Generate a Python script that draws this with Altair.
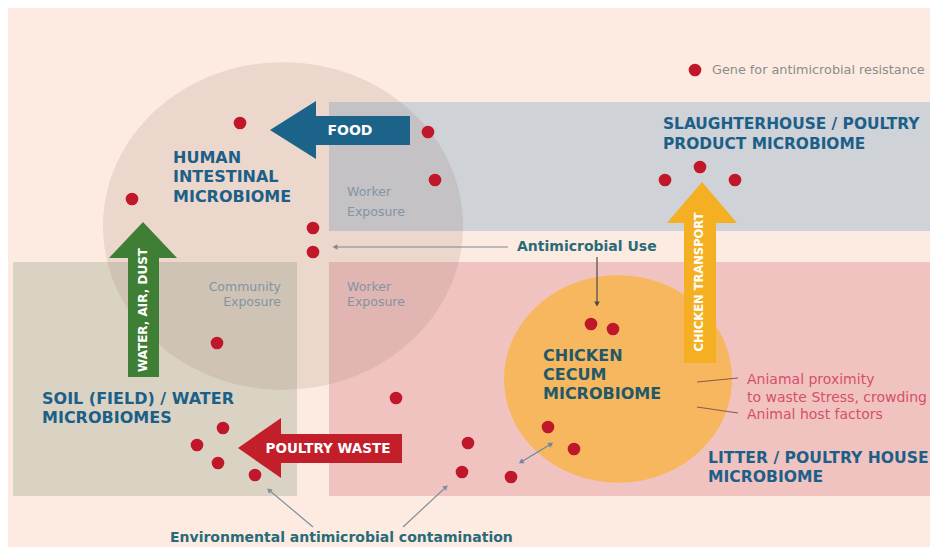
import math
import altair as alt
import pandas as pd

BG = "#fdebe1"
X0, X1, Y0, Y1 = 8, 930, 8, 547

# ---- regions (rectangles) ----
region_name = ["slaughterhouse", "litter", "soil"]
region_x = [329, 329, 13]
region_x2 = [938, 938, 297]
region_y = [102, 262, 262]
region_y2 = [231, 496, 496]
region_color = ["#cfd2d7", "#f1c3c0", "#dad3c4"]

# ---- microbiome ellipses ----
blob_name = ["human", "cecum"]
blob_x = [283, 618]
blob_y = [226, 379]
blob_rx = [180, 114]
blob_color = ["#8c6e66", "#f6b75e"]
blob_opacity = [0.16, 1.0]
ELLIPSE = "M-1,0A1,0.91 0 1,1 1,0A1,0.91 0 1,1 -1,0Z"

# ---- thick arrows: body + head ----
arrow_name = ["FOOD", "WATER, AIR, DUST", "CHICKEN TRANSPORT", "POULTRY WASTE"]
arrow_color = ["#1b6388", "#3f7f35", "#f4b022", "#c21f2b"]
body_x = [312, 128, 684, 278]
body_x2 = [410, 159, 716, 402]
body_y = [116, 255, 220, 434]
body_y2 = [145, 377, 363, 463]
head_x = [293, 143, 702, 259.5]
head_y = [130, 240, 202.5, 448]
head_span = [58, 68, 70, 60]
head_path = [
    "M-0.793,0L0.793,-1L0.793,1Z",
    "M0,-0.53L1,0.53L-1,0.53Z",
    "M0,-0.586L1,0.586L-1,0.586Z",
    "M-0.717,0L0.717,-1L0.717,1Z",
]
arrow_label_x = [350, 143, 700, 328]
arrow_label_y = [131, 310, 282, 449]
arrow_label_size = [14, 12, 11.5, 13.5]
arrow_label_angle = [0, 270, 270, 0]

# ---- thin connector lines ----
seg_x1 = [508, 597, 313, 403, 521, 697, 697]
seg_y1 = [247, 257, 527, 527, 462, 382, 407]
seg_x2 = [335, 597, 269, 446, 551, 738, 738]
seg_y2 = [247, 304, 490, 487, 444, 378, 413]
seg_color = ["#7b8a92", "#4a4a4a", "#7f8f9c", "#7f8f9c", "#6e87a3", "#8a5a52", "#8a5a52"]
seg_heads = ["end", "end", "end", "end", "both", "none", "none"]

# ---- genes for antimicrobial resistance ----
gene_x = [240, 428, 435, 132, 313, 313, 700, 665, 735, 217, 396, 223, 197, 218,
          255, 468, 462, 591, 613, 548, 574, 511, 695]
gene_y = [123, 132, 180, 199, 228, 252, 167, 180, 180, 343, 398, 428, 445, 463,
          475, 443, 472, 324, 329, 427, 449, 477, 70]

# ---- texts ----
label_text = ["HUMAN", "INTESTINAL", "MICROBIOME",
              "SLAUGHTERHOUSE / POULTRY", "PRODUCT MICROBIOME",
              "LITTER / POULTRY HOUSE", "MICROBIOME",
              "SOIL (FIELD) / WATER", "MICROBIOMES",
              "CHICKEN", "CECUM", "MICROBIOME",
              "Antimicrobial Use", "Environmental antimicrobial contamination"]
label_x = [173, 173, 173, 663, 663, 708, 708, 42, 42, 543, 543, 543, 517, 170]
label_y = [158, 177, 197, 124, 144, 458, 477, 399, 418, 356, 375, 394, 247, 538]
label_size = [16, 16, 16, 15.4, 15.4, 15.6, 15.6, 16, 16, 16, 16, 16, 14, 14]
label_color = ["#1c5f88"] * 9 + ["#22596a"] * 3 + ["#286b78", "#286b78"]

note_text = ["Worker", "Exposure", "Worker", "Exposure",
             "Aniamal proximity", "to waste Stress, crowding", "Animal host factors",
             "Gene for antimicrobial resistance"]
note_x = [347, 347, 347, 347, 747, 747, 747, 712]
note_y = [192, 212, 287, 302, 380, 398, 415, 70]
note_size = [12.5, 12.5, 12.5, 12.5, 14, 14, 14, 12.8]
note_color = ["#8394a4"] * 4 + ["#d4506a"] * 3 + ["#8c8c8c"]

right_text = ["Community", "Exposure"]
right_x = [281, 281]
right_y = [287, 302]

# ---------------------------------------------------------------
xs = alt.Scale(domain=[X0, X1], nice=False, zero=False)
ys = alt.Scale(domain=[Y0, Y1], nice=False, zero=False, reverse=True)
X = lambda f: alt.X(f, type="quantitative", scale=xs, axis=None)
Y = lambda f: alt.Y(f, type="quantitative", scale=ys, axis=None)

regions = pd.DataFrame(dict(name=region_name, x=region_x, x2=region_x2,
                            y=region_y, y2=region_y2, color=region_color))
rects = alt.Chart(regions).mark_rect().encode(
    x=X("x"), x2="x2", y=Y("y"), y2="y2",
    color=alt.Color("color:N", scale=None))

blobs = pd.DataFrame(dict(name=blob_name, x=blob_x, y=blob_y,
                          size=[(2 * r) ** 2 for r in blob_rx],
                          color=blob_color, op=blob_opacity))
blob_layer = alt.Chart(blobs).mark_point(filled=True, shape=ELLIPSE, strokeWidth=0).encode(
    x=X("x"), y=Y("y"),
    size=alt.Size("size:Q", scale=None),
    color=alt.Color("color:N", scale=None),
    opacity=alt.Opacity("op:Q", scale=None))

segs = pd.DataFrame(dict(x=seg_x1, y=seg_y1, x2=seg_x2, y2=seg_y2, color=seg_color))
seg_layer = alt.Chart(segs).mark_rule(strokeWidth=1.2).encode(
    x=X("x"), y=Y("y"), x2="x2", y2="y2",
    color=alt.Color("color:N", scale=None))

hx, hy, ha, hc = [], [], [], []
for a, b, c, d, col, h in zip(seg_x1, seg_y1, seg_x2, seg_y2, seg_color, seg_heads):
    if h in ("end", "both"):
        hx.append(c); hy.append(d); hc.append(col)
        ha.append(math.degrees(math.atan2(c - a, -(d - b))) % 360)
    if h == "both":
        hx.append(a); hy.append(b); hc.append(col)
        ha.append(math.degrees(math.atan2(a - c, -(b - d))) % 360)
heads = pd.DataFrame(dict(x=hx, y=hy, angle=ha, color=hc))
head_layer = alt.Chart(heads).mark_point(filled=True, shape="triangle-up", size=32, opacity=1).encode(
    x=X("x"), y=Y("y"),
    angle=alt.Angle("angle:Q", scale=None),
    color=alt.Color("color:N", scale=None))

bodies = pd.DataFrame(dict(name=arrow_name, x=body_x, x2=body_x2, y=body_y, y2=body_y2,
                           color=arrow_color))
body_layer = alt.Chart(bodies).mark_rect().encode(
    x=X("x"), x2="x2", y=Y("y"), y2="y2",
    color=alt.Color("color:N", scale=None))

aheads = pd.DataFrame(dict(name=arrow_name, x=head_x, y=head_y,
                           size=[s ** 2 for s in head_span], shape=head_path,
                           color=arrow_color))
ahead_layer = alt.Chart(aheads).mark_point(filled=True, opacity=1, strokeWidth=0).encode(
    x=X("x"), y=Y("y"),
    size=alt.Size("size:Q", scale=None),
    shape=alt.Shape("shape:N", scale=None),
    color=alt.Color("color:N", scale=None))

alabels = pd.DataFrame(dict(text=arrow_name, x=arrow_label_x, y=arrow_label_y,
                            size=arrow_label_size, angle=arrow_label_angle))
alabel_layer = alt.Chart(alabels).mark_text(
    font="DejaVu Sans", fontWeight="bold", color="white", align="center", baseline="middle"
).encode(x=X("x"), y=Y("y"), text="text:N",
         size=alt.Size("size:Q", scale=None),
         angle=alt.Angle("angle:Q", scale=None))

genes = pd.DataFrame(dict(x=gene_x, y=gene_y))
gene_layer = alt.Chart(genes).mark_point(
    filled=True, shape="circle", size=160, color="#c0172b", opacity=1, strokeWidth=0
).encode(x=X("x"), y=Y("y"))

labels = pd.DataFrame(dict(text=label_text, x=label_x, y=label_y,
                           size=label_size, color=label_color))
label_layer = alt.Chart(labels).mark_text(
    font="DejaVu Sans", fontWeight="bold", align="left", baseline="middle"
).encode(x=X("x"), y=Y("y"), text="text:N",
         size=alt.Size("size:Q", scale=None),
         color=alt.Color("color:N", scale=None))

notes = pd.DataFrame(dict(text=note_text, x=note_x, y=note_y,
                          size=note_size, color=note_color))
note_layer = alt.Chart(notes).mark_text(
    font="DejaVu Sans", align="left", baseline="middle"
).encode(x=X("x"), y=Y("y"), text="text:N",
         size=alt.Size("size:Q", scale=None),
         color=alt.Color("color:N", scale=None))

rnotes = pd.DataFrame(dict(text=right_text, x=right_x, y=right_y))
rnote_layer = alt.Chart(rnotes).mark_text(
    font="DejaVu Sans", align="right", baseline="middle", fontSize=12.5, color="#8394a4"
).encode(x=X("x"), y=Y("y"), text="text:N")

chart = alt.layer(
    rects, blob_layer, seg_layer, head_layer, body_layer, ahead_layer,
    gene_layer, label_layer, note_layer, rnote_layer, alabel_layer
).properties(
    width=X1 - X0, height=Y1 - Y0, padding=0, background=BG, autosize="none"
).configure_view(stroke=None, fill=BG)

chart.save("out.html", embed_options={"renderer": "svg", "actions": False})
